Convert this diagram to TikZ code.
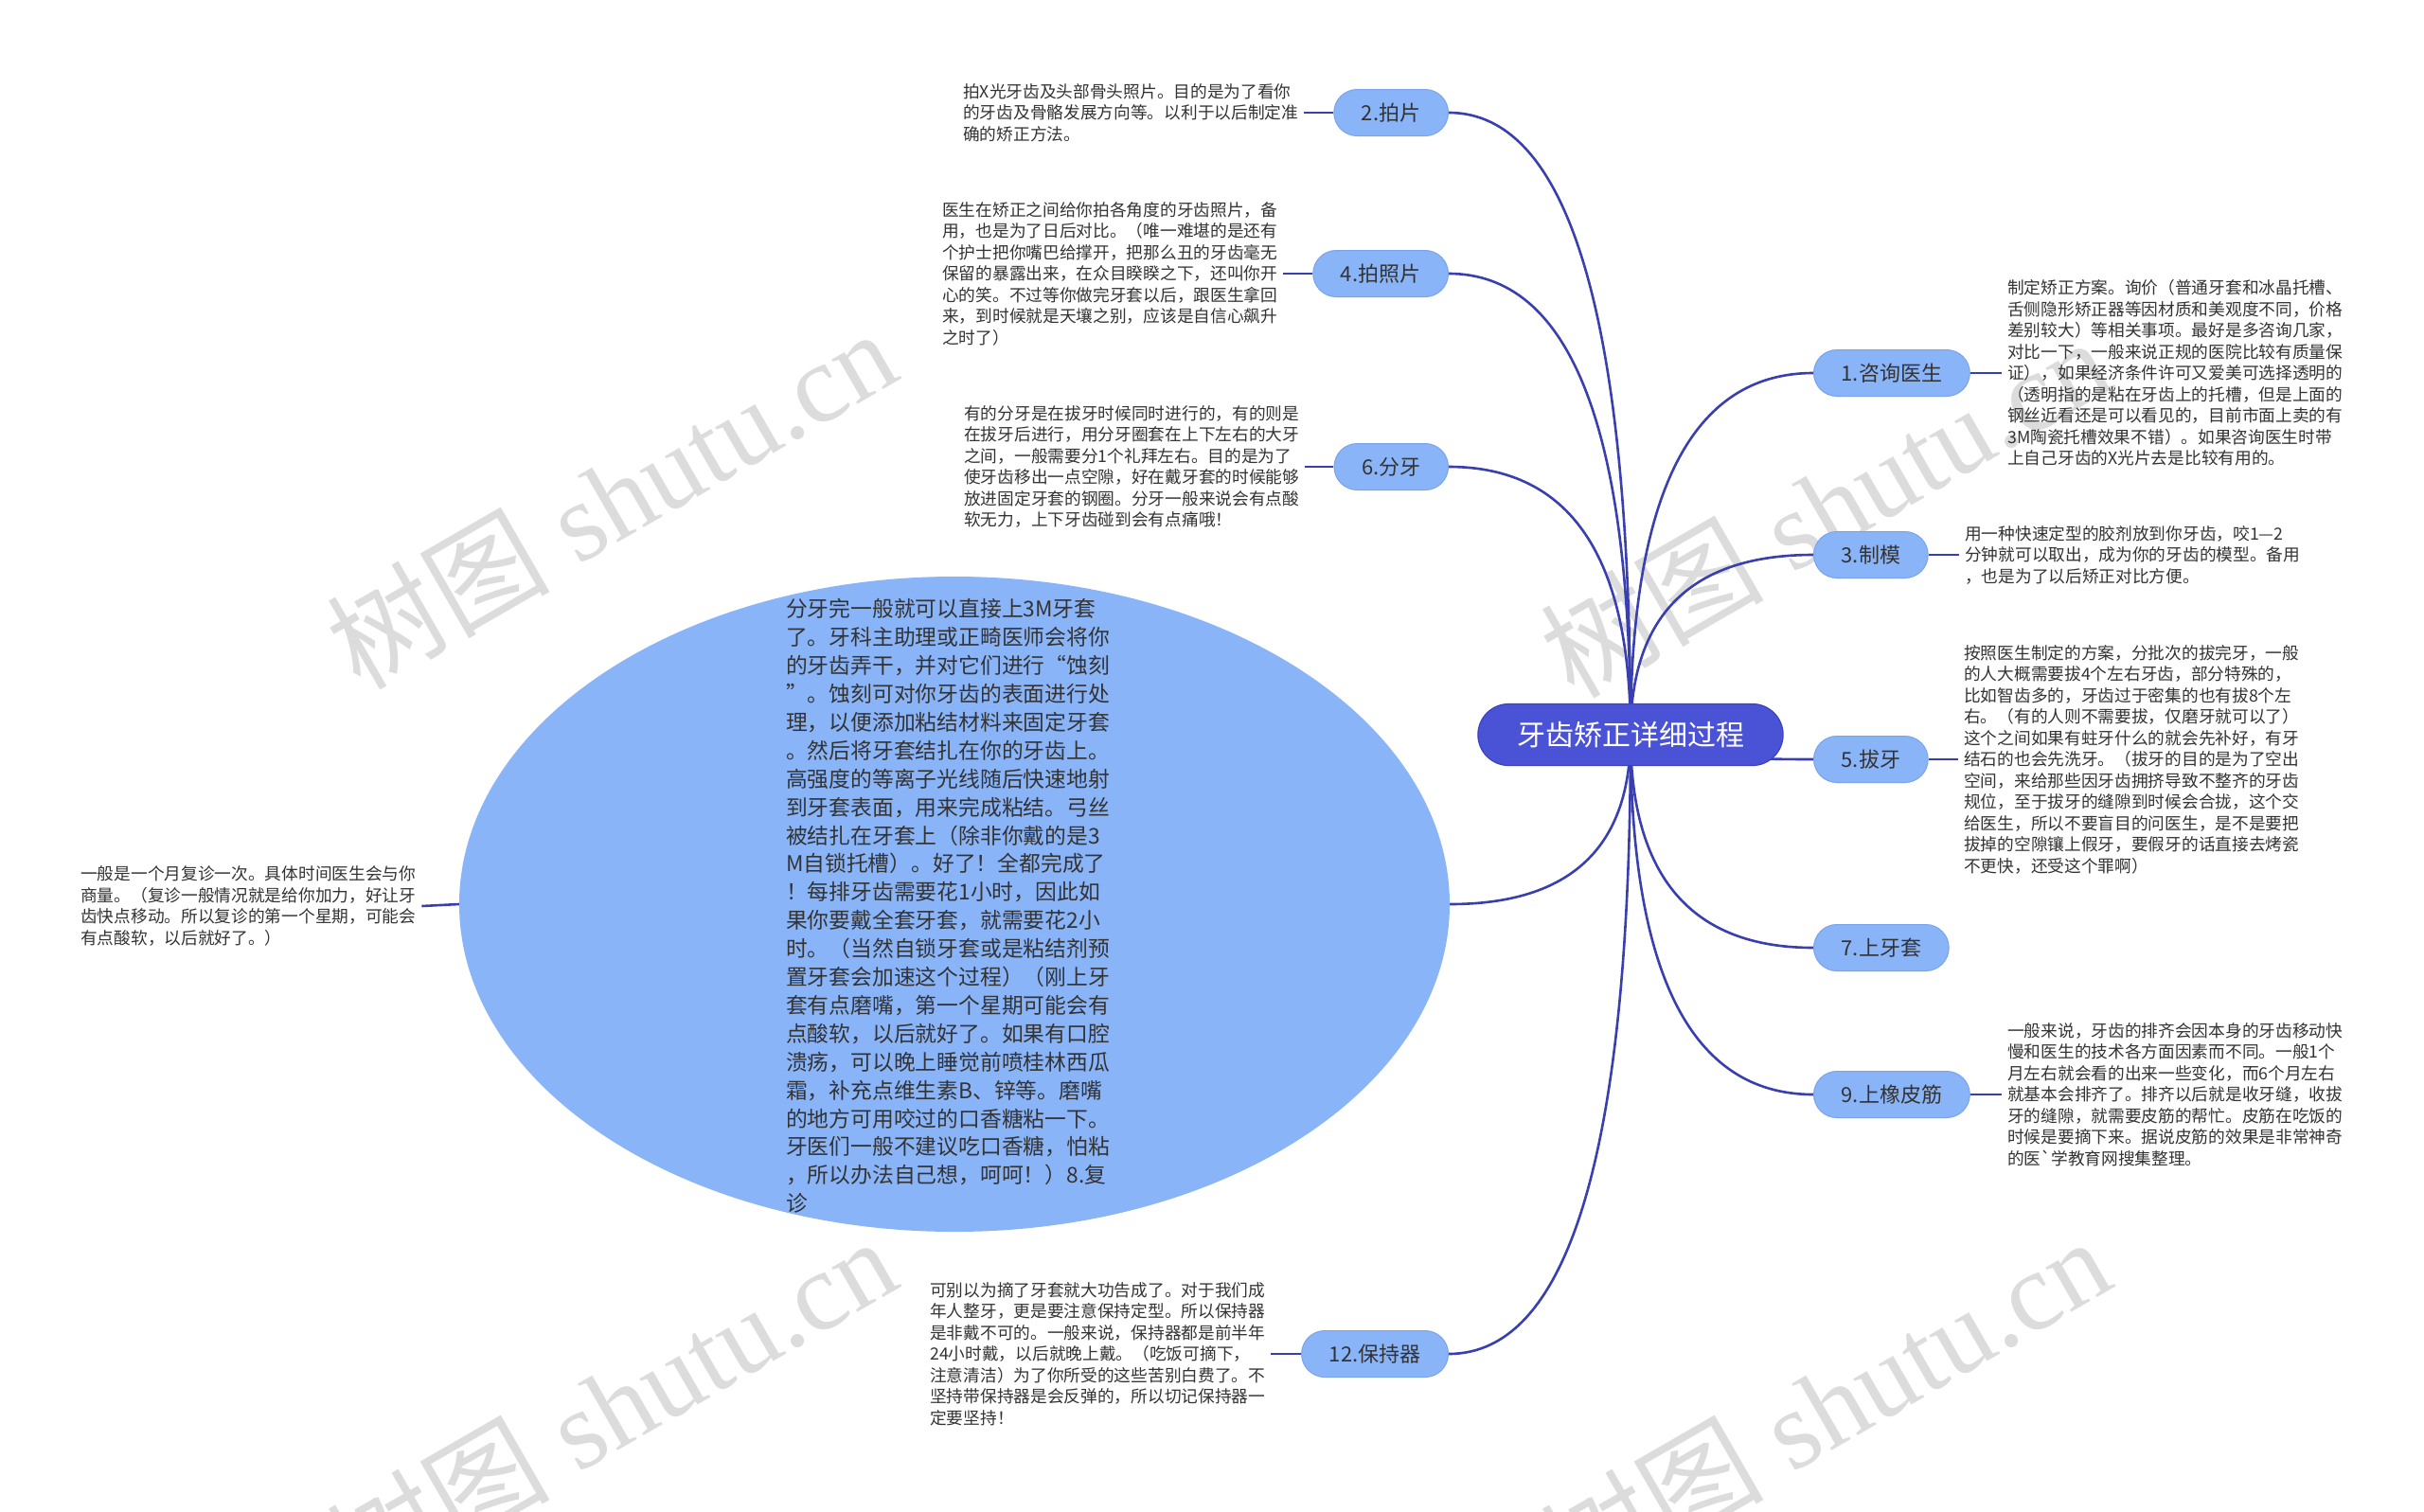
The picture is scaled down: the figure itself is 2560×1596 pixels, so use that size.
\documentclass[tikz,border=0pt]{standalone}
\usepackage{fontspec}
\newfontfamily\cjk{Noto Sans CJK SC}
\newfontfamily\wmserif{Liberation Serif}
\usetikzlibrary{shapes.misc,shapes.geometric,calc}
\pgfdeclarelayer{wmlayer}
\pgfdeclarelayer{edgelayer}
\pgfsetlayers{wmlayer,edgelayer,main}
\definecolor{edgec}{RGB}{58,63,176}
\definecolor{rootfill}{RGB}{74,82,214}
\definecolor{rootdraw}{RGB}{60,66,190}
\definecolor{brfill}{RGB}{138,180,248}
\definecolor{brdraw}{RGB}{122,163,236}
\definecolor{txtc}{RGB}{51,51,51}
\definecolor{wmc}{RGB}{220,220,220}
\newcommand\mmedge[1]{\draw[edge] (c.center) .. controls ($(c.center)!0.6667!(c.center |- #1)$) and ($(#1)!0.6667!(c.center |- #1)$) .. (#1);}
\begin{document}
\begin{tikzpicture}[x={(1pt,0pt)},y={(0pt,-1pt)},
  edge/.style={draw=edgec,line width=2.6pt},
  rootnode/.style={rounded rectangle,fill=rootfill,draw=rootdraw,line width=1.2pt,text=white,font=\cjk\fontsize{30}{36}\selectfont,minimum height=65pt,inner xsep=38pt},
  branch/.style={rounded rectangle,fill=brfill,draw=brdraw,line width=1pt,text=txtc,font=\cjk\fontsize{22}{26}\selectfont,minimum height=49pt,inner xsep=27pt},
  leaf/.style={align=left,text=txtc,font=\cjk\fontsize{17.7}{22.5}\selectfont,inner xsep=6pt,inner ysep=2pt,anchor=west},
  wmark/.style={text=wmc,rotate=30,font=\wmserif\fontsize{118}{126}\selectfont,inner sep=0pt}
]
\useasboundingbox (0,0) rectangle (2560,1596);

% background and watermarks
\begin{pgfonlayer}{wmlayer}
\fill[white] (0,0) rectangle (2560,1596);
\node[wmark] (wm1) at (645,526) {{\cjk 树图} shutu.cn};
\node[wmark] (wm2) at (1927,535) {{\cjk 树图} shutu.cn};
\node[wmark] (wm3) at (645,1485) {{\cjk 树图} shutu.cn};
\node[wmark] (wm4) at (1927,1485) {{\cjk 树图} shutu.cn};
\end{pgfonlayer}

% root node
\node[rootnode] (c) at (1722,776) {牙齿矫正详细过程};

% branch nodes
\node[branch,anchor=east] (n2) at (1530,119) {2.拍片};
\node[branch,anchor=east] (n4) at (1530,289) {4.拍照片};
\node[branch,anchor=east] (n6) at (1530,493) {6.分牙};
\node[branch,anchor=east] (n12) at (1530,1430) {12.保持器};
\node[branch,anchor=west] (n1) at (1915,394) {1.咨询医生};
\node[branch,anchor=west] (n3) at (1915,586) {3.制模};
\node[branch,anchor=west] (n5) at (1915,802) {5.拔牙};
\node[branch,anchor=west] (n7) at (1915,1001) {7.上牙套};
\node[branch,anchor=west] (n9) at (1915,1156) {9.上橡皮筋};
\node[ellipse,fill=brfill,minimum width=1046pt,minimum height=692pt,inner sep=0pt] (n8) at (1008,955) {};
\node[align=left,text=txtc,font=\cjk\fontsize{22.8}{29.9}\selectfont,inner sep=0pt] (n8t) at (1001,957) {分牙完一般就可以直接上3M牙套\\了。牙科主助理或正畸医师会将你\\的牙齿弄干，并对它们进行“蚀刻\\”。蚀刻可对你牙齿的表面进行处\\理，以便添加粘结材料来固定牙套\\。然后将牙套结扎在你的牙齿上。\\高强度的等离子光线随后快速地射\\到牙套表面，用来完成粘结。弓丝\\被结扎在牙套上（除非你戴的是3\\M自锁托槽）。好了！全都完成了\\！每排牙齿需要花1小时，因此如\\果你要戴全套牙套，就需要花2小\\时。（当然自锁牙套或是粘结剂预\\置牙套会加速这个过程）（刚上牙\\套有点磨嘴，第一个星期可能会有\\点酸软，以后就好了。如果有口腔\\溃疡，可以晚上睡觉前喷桂林西瓜\\霜，补充点维生素B、锌等。磨嘴\\的地方可用咬过的口香糖粘一下。\\牙医们一般不建议吃口香糖，怕粘\\，所以办法自己想，呵呵！）8.复\\诊};

% leaf texts
\node[leaf] (t2) at (1011,119) {拍X光牙齿及头部骨头照片。目的是为了看你\\的牙齿及骨骼发展方向等。以利于以后制定准\\确的矫正方法。};
\node[leaf] (t4) at (989,289) {医生在矫正之间给你拍各角度的牙齿照片，备\\用，也是为了日后对比。（唯一难堪的是还有\\个护士把你嘴巴给撑开，把那么丑的牙齿毫无\\保留的暴露出来，在众目睽睽之下，还叫你开\\心的笑。不过等你做完牙套以后，跟医生拿回\\来，到时候就是天壤之别，应该是自信心飙升\\之时了）};
\node[leaf] (t6) at (1012,493) {有的分牙是在拔牙时候同时进行的，有的则是\\在拔牙后进行，用分牙圈套在上下左右的大牙\\之间，一般需要分1个礼拜左右。目的是为了\\使牙齿移出一点空隙，好在戴牙套的时候能够\\放进固定牙套的钢圈。分牙一般来说会有点酸\\软无力，上下牙齿碰到会有点痛哦！};
\node[leaf] (t12) at (976,1430) {可别以为摘了牙套就大功告成了。对于我们成\\年人整牙，更是要注意保持定型。所以保持器\\是非戴不可的。一般来说，保持器都是前半年\\24小时戴，以后就晚上戴。（吃饭可摘下，\\注意清洁）为了你所受的这些苦别白费了。不\\坚持带保持器是会反弹的，所以切记保持器一\\定要坚持！};
\node[leaf] (t8) at (79,957) {一般是一个月复诊一次。具体时间医生会与你\\商量。（复诊一般情况就是给你加力，好让牙\\齿快点移动。所以复诊的第一个星期，可能会\\有点酸软，以后就好了。）};
\node[leaf] (t1) at (2114,394) {制定矫正方案。询价（普通牙套和冰晶托槽、\\舌侧隐形矫正器等因材质和美观度不同，价格\\差别较大）等相关事项。最好是多咨询几家，\\对比一下，一般来说正规的医院比较有质量保\\证），如果经济条件许可又爱美可选择透明的\\（透明指的是粘在牙齿上的托槽，但是上面的\\钢丝近看还是可以看见的，目前市面上卖的有\\3M陶瓷托槽效果不错）。如果咨询医生时带\\上自己牙齿的X光片去是比较有用的。};
\node[leaf] (t3) at (2069,586) {用一种快速定型的胶剂放到你牙齿，咬1—2\\分钟就可以取出，成为你的牙齿的模型。备用\\，也是为了以后矫正对比方便。};
\node[leaf] (t5) at (2068,802) {按照医生制定的方案，分批次的拔完牙，一般\\的人大概需要拔4个左右牙齿，部分特殊的，\\比如智齿多的，牙齿过于密集的也有拔8个左\\右。（有的人则不需要拔，仅磨牙就可以了）\\这个之间如果有蛀牙什么的就会先补好，有牙\\结石的也会先洗牙。（拔牙的目的是为了空出\\空间，来给那些因牙齿拥挤导致不整齐的牙齿\\规位，至于拔牙的缝隙到时候会合拢，这个交\\给医生，所以不要盲目的问医生，是不是要把\\拔掉的空隙镶上假牙，要假牙的话直接去烤瓷\\不更快，还受这个罪啊）};
\node[leaf] (t9) at (2114,1156) {一般来说，牙齿的排齐会因本身的牙齿移动快\\慢和医生的技术各方面因素而不同。一般1个\\月左右就会看的出来一些变化，而6个月左右\\就基本会排齐了。排齐以后就是收牙缝，收拔\\牙的缝隙，就需要皮筋的帮忙。皮筋在吃饭的\\时候是要摘下来。据说皮筋的效果是非常神奇\\的医`学教育网搜集整理。};

\begin{pgfonlayer}{edgelayer}
% leaf connectors
\draw[edge] (t2.east) -- (n2.west);
\draw[edge] (t4.east) -- (n4.west);
\draw[edge] (t6.east) -- (n6.west);
\draw[edge] (t12.east) -- (n12.west);
\draw[edge] (t8.east) -- (n8.west);
\draw[edge] (n1.east) -- (t1.west);
\draw[edge] (n3.east) -- (t3.west);
\draw[edge] (n5.east) -- (t5.west);
\draw[edge] (n9.east) -- (t9.west);
% root edges
\mmedge{n2.east}
\mmedge{n4.east}
\mmedge{n6.east}
\mmedge{n8.east}
\mmedge{n12.east}
\mmedge{n1.west}
\mmedge{n3.west}
\mmedge{n5.west}
\mmedge{n7.west}
\mmedge{n9.west}
\end{pgfonlayer}
\end{tikzpicture}
\end{document}
